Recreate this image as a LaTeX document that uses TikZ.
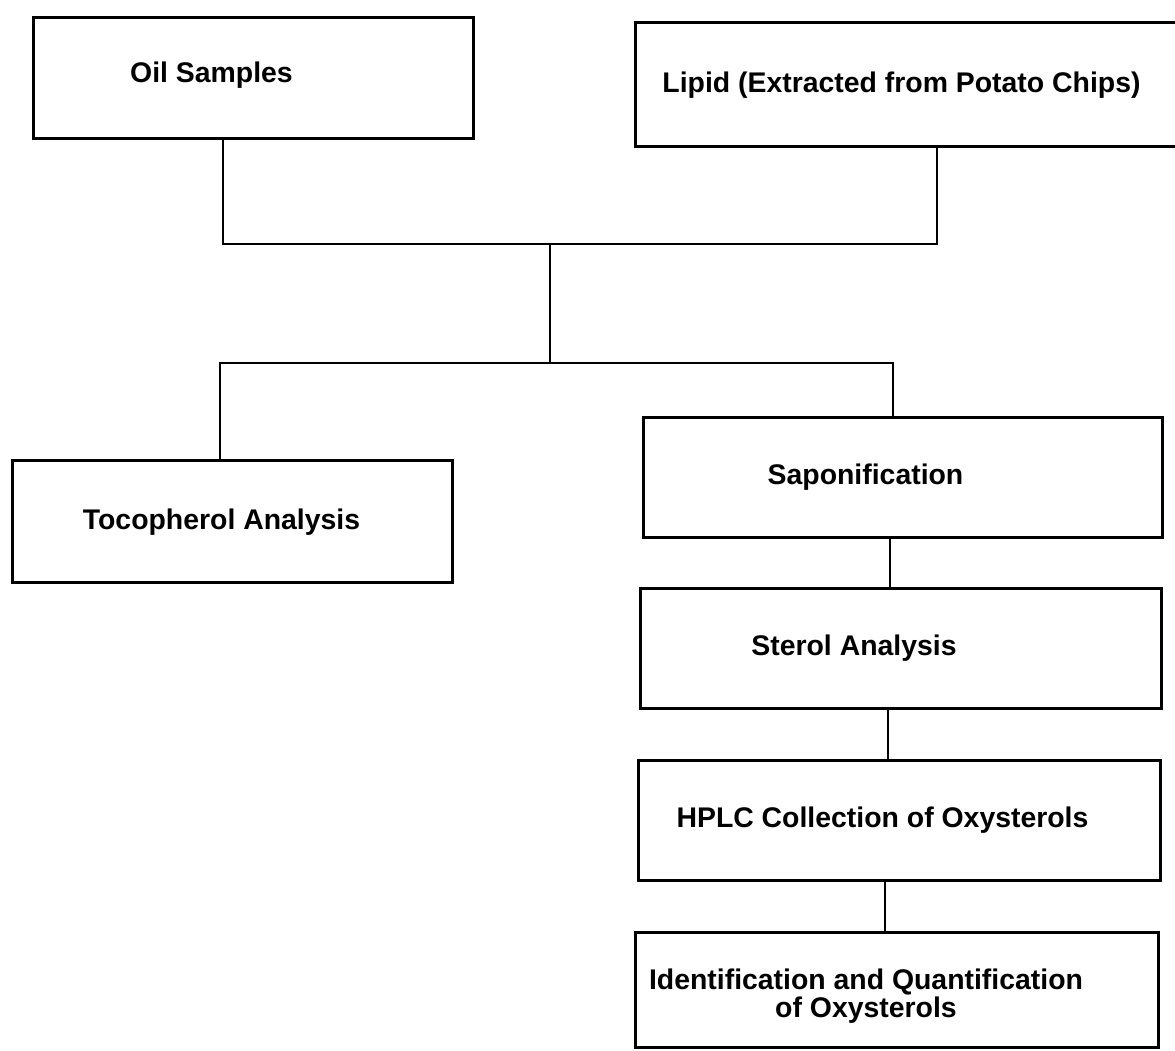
\documentclass[tikz,border=0pt]{standalone}
\usepackage{fontspec}
\setmainfont{Liberation Sans}
\usetikzlibrary{positioning}
\tikzset{font=\bfseries\fontsize{14.2}{14}\selectfont}

\begin{document}
\begin{tikzpicture}[x=0.5pt,y=-0.5pt]
	\useasboundingbox (0,0) rectangle (1175,1051);
	\begin{scope}
		\tikzstyle{box}=[draw, line width=1.5pt, inner sep=0pt]
		\tikzstyle{txt}=[align=center, inner sep=0pt]
		% boxes
		\node[box, minimum width=220pt, minimum height=60.5pt] (oil) at (253, 77.5) {};
		\node[box, minimum width=280pt, minimum height=62pt] (lipid) at (915, 84) {};
		\node[box, minimum width=220pt, minimum height=61pt] (toco) at (232, 521) {};
		\node[box, minimum width=259.5pt, minimum height=60pt] (sapon) at (902.5, 477) {};
		\node[box, minimum width=260.5pt, minimum height=60pt] (sterol) at (900.5, 648) {};
		\node[box, minimum width=261pt, minimum height=60pt] (hplc) at (899, 820) {};
		\node[box, minimum width=261.5pt, minimum height=57.5pt] (ident) at (896.5, 989.5) {};

		% texts
		\node[txt] (oil-t) at (211.5, 75) {Oil Samples};
		\node[txt] (lipid-t) at (901.5, 85) {Lipid (Extracted from Potato Chips)};
		\node[txt] (toco-t) at (221.5, 522) {Tocopherol Analysis};
		\node[txt] (sapon-t) at (865.5, 477) {Saponification};
		\node[txt] (sterol-t) at (854, 648) {Sterol Analysis};
		\node[txt] (hplc-t) at (882.5, 820) {HPLC Collection of Oxysterols};
		\node[txt] (ident-t) at (866, 996) {Identification and Quantification\\of Oxysterols};

		\coordinate (top) at (550, 244);
		\coordinate (mid) at (550, 363);

		\tikzstyle{every path}=[line width=1.2pt]
		\draw ([xshift=-15pt]oil.south) |- (top) -| ([xshift=11pt]lipid.south);
		\draw (top) -- (mid);
		\draw ([xshift=-6pt]toco.north) |- (mid) -| ([xshift=-4.75pt]sapon.north);
		\draw ([xshift=-6.25pt]sapon.south) -- ([xshift=-5.25pt]sterol.north);
		\draw ([xshift=-6.25pt]sterol.south) -- ([xshift=-5.5pt]hplc.north);
		\draw ([xshift=-7pt]hplc.south) -- ([xshift=-5.75pt]ident.north);
	\end{scope}
\end{tikzpicture}
\end{document}
